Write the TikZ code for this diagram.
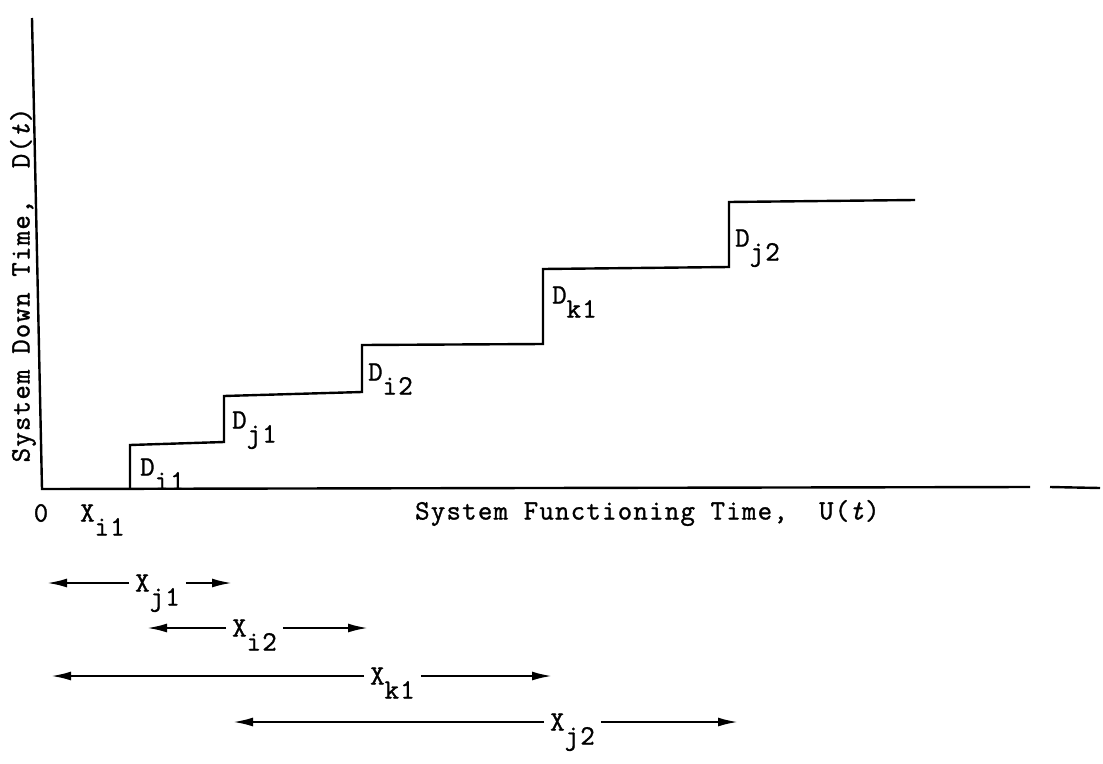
\documentclass[tikz,border=0pt]{standalone}
\usepackage{fontspec}
\setmonofont{Latin Modern Mono}[LetterSpace=4.5,FakeBold=1.2]
\usetikzlibrary{arrows.meta}
\newcommand\sub[1]{\smash{\raisebox{-0.5em}{#1}}}
\begin{document}
\begin{tikzpicture}[x=1pt,y=-1pt]
    \tikzstyle{lbl}=[font=\ttfamily\fontsize{28}{32}\selectfont, inner sep=0pt, anchor=west]
    \tikzstyle{axis}=[line width=2.4pt]
    \tikzstyle{span}=[line width=2.2pt, -{Latex[length=20pt,width=9pt]}]
    \useasboundingbox (0,0) rectangle (1103,763);

    \draw[axis] (32,18) -- (42,489) -- (1030,487);
    \draw[axis] (1050,487) -- (1100,488);

    \draw[axis] (130,489) -- (130,445) -- (224,442)
                          -- (224,396) -- (362,392)
                          -- (362,345) -- (543,344)
                          -- (543,269) -- (729,267)
                          -- (729,202) -- (915,200);

    \node[lbl] (di1) at (140,467) {D\sub{i1}};
    \node[lbl] (dj1) at (232,420) {D\sub{j1}};
    \node[lbl] (di2) at (368,372) {D\sub{i2}};
    \node[lbl] (dk1) at (552,295) {D\sub{k1}};
    \node[lbl] (dj2) at (735,238) {D\sub{j2}};

    \node[lbl, anchor=center] (zero) at (41,513) {0};
    \node[lbl] (xi1) at (80,513) {X\sub{i1}};
    \node[lbl] (ulbl) at (415,513) {System Functioning Time,\ \ U(\textit{t})};
    \node[lbl, anchor=center, rotate=90] (dlbl) at (23,285) {System Down Time,\ \ D(\textit{t})};

    \node[lbl, inner xsep=6pt] (xj1) at (129,583) {X\sub{j1}};
    \coordinate (xj1a) at (47,583);
    \coordinate (xj1b) at (232,583);
    \draw[span] (xj1) -- (xj1a);
    \draw[span] (xj1) -- (xj1b);

    \node[lbl, inner xsep=6pt] (xi2) at (226,628) {X\sub{i2}};
    \coordinate (xi2a) at (147,628);
    \coordinate (xi2b) at (368,628);
    \draw[span] (xi2) -- (xi2a);
    \draw[span] (xi2) -- (xi2b);

    \node[lbl, inner xsep=6pt] (xk1) at (364,676) {X\sub{k1}};
    \coordinate (xk1a) at (51,676);
    \coordinate (xk1b) at (552,676);
    \draw[span] (xk1) -- (xk1a);
    \draw[span] (xk1) -- (xk1b);

    \node[lbl, inner xsep=6pt] (xj2) at (544,722) {X\sub{j2}};
    \coordinate (xj2a) at (233,722);
    \coordinate (xj2b) at (738,722);
    \draw[span] (xj2) -- (xj2a);
    \draw[span] (xj2) -- (xj2b);

\end{tikzpicture}
\end{document}
